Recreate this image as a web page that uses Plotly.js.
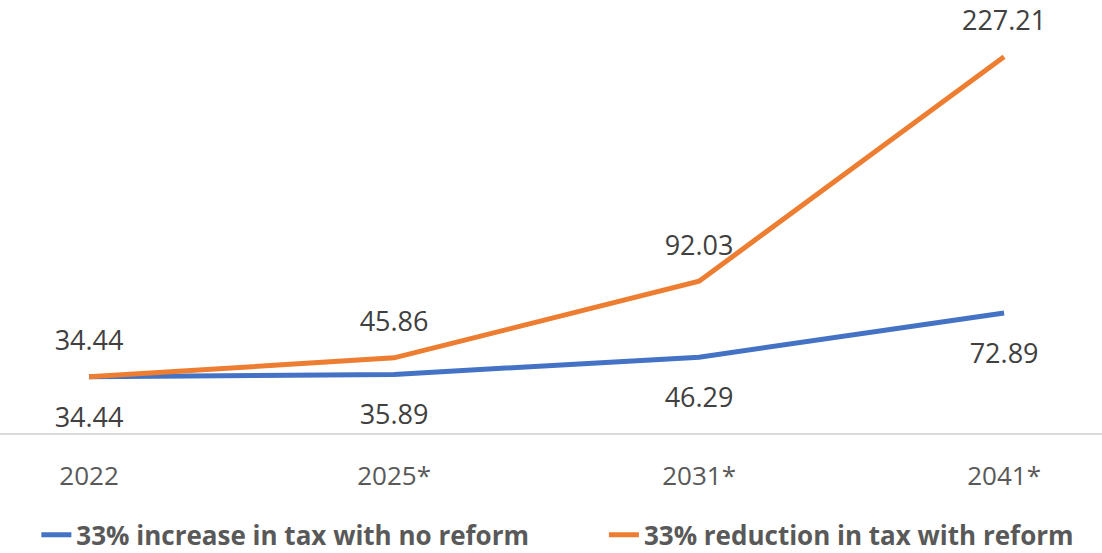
<!DOCTYPE html>
<html>
<head>
<meta charset="utf-8">
<script src="https://cdn.plot.ly/plotly-3.0.1.min.js"></script>
<style>
  html, body { margin: 0; padding: 0; background: #fff; }
  #chart { width: 1102px; height: 553px; }
</style>
</head>
<body>
<div id="chart"></div>
<script>
// Projection years (starred = forecast)
const years = ['2022', '2025*', '2031*', '2041*'];

// Series values
const noReform = [34.44, 35.89, 46.29, 72.89];
const withReform = [34.44, 45.86, 92.03, 227.21];

// Label placement per point
const noReformLabelPos = ['bottom center', 'bottom center', 'bottom center', 'bottom center'];
const withReformLabelPos = ['top center', 'top center', 'top center', 'top center'];

const seriesNames = ['33% increase in tax with no reform', '33% reduction in tax with reform'];
const seriesColors = ['#4472C4', '#ED7D31'];

const labelFont = { family: 'Open Sans, sans-serif', size: 27, color: '#404040' };

function lineTrace(values, i, legendId) {
  return {
    x: years, y: values, name: seriesNames[i], legend: legendId,
    type: 'scatter', mode: 'lines',
    line: { color: seriesColors[i], width: 5 },
    hoverinfo: 'x+y'
  };
}

// Value labels; the transparent markers set how far each label sits from the line
function labelTrace(values, positions, gap) {
  return {
    x: years, y: values, showlegend: false,
    type: 'scatter', mode: 'markers+text',
    marker: { size: gap, opacity: 0 },
    text: values.map(v => v.toFixed(2)),
    textposition: positions,
    textfont: labelFont,
    cliponaxis: false,
    hoverinfo: 'skip'
  };
}

const traces = [
  lineTrace(noReform, 0, 'legend'),
  lineTrace(withReform, 1, 'legend2'),
  labelTrace(noReform, noReformLabelPos, 46),
  labelTrace(withReform, withReformLabelPos, 30)
];

const legendFont = { family: 'Open Sans, sans-serif', size: 26, color: '#595959', weight: 'bold' };

const layout = {
  width: 1102, height: 553,
  margin: { l: 0, r: 0, t: 19, b: 119, autoexpand: false },
  paper_bgcolor: '#ffffff', plot_bgcolor: '#ffffff',
  showlegend: true,
  legend: {
    orientation: 'h', x: 0.033, xanchor: 'left',
    yref: 'container', y: 0.033, yanchor: 'middle',
    font: legendFont, bgcolor: 'rgba(0,0,0,0)'
  },
  legend2: {
    orientation: 'h', x: 0.548, xanchor: 'left',
    yref: 'container', y: 0.033, yanchor: 'middle',
    font: legendFont, bgcolor: 'rgba(0,0,0,0)'
  },
  xaxis: {
    type: 'category',
    range: [-0.292, 3.321],
    showgrid: false, zeroline: false,
    showline: false, automargin: false,
    ticks: '', ticklabelstandoff: 24,
    tickfont: { family: 'Open Sans, sans-serif', size: 26, color: '#595959' },
    fixedrange: true
  },
  yaxis: {
    range: [0, 250],
    showticklabels: false, ticks: '',
    showgrid: false, showline: false, automargin: false,
    zeroline: true, zerolinecolor: '#D9D9D9', zerolinewidth: 2,
    fixedrange: true
  }
};

Plotly.newPlot('chart', traces, layout, { displayModeBar: false, staticPlot: true });
</script>
</body>
</html>
